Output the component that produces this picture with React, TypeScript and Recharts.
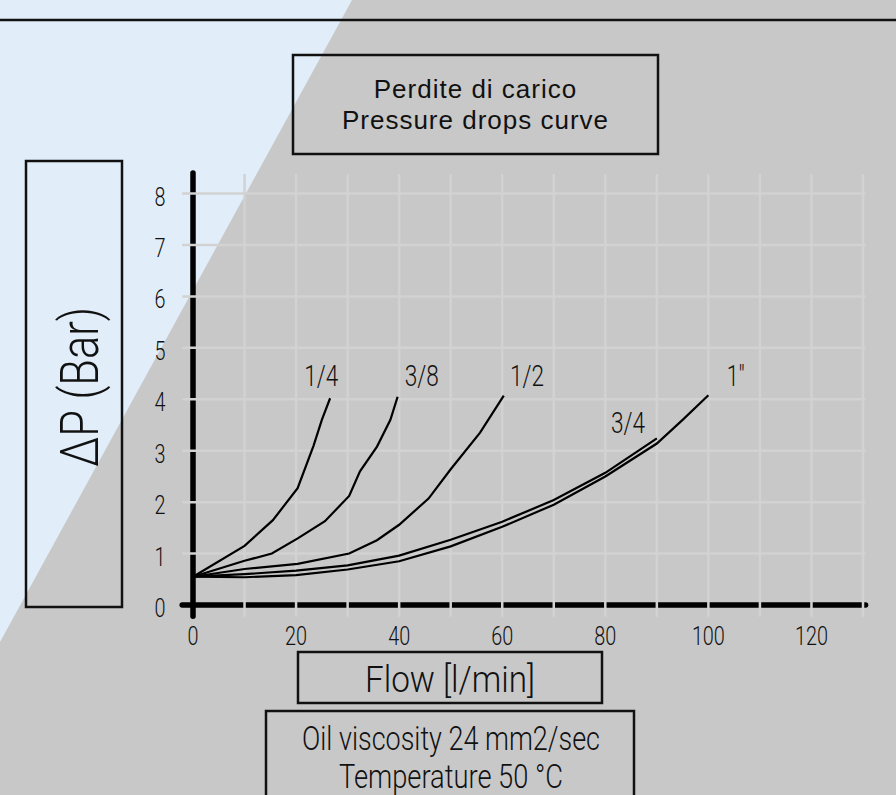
import React from 'react';
import { LineChart, Line, XAxis, YAxis, ReferenceLine, ReferenceDot } from 'recharts';

// flow [l/min] / pressure drop [bar]
const FLOW_1_4 = [0, 10, 15.5, 20.3, 23.4, 25, 26.6];
const DP_1_4 = [0.55, 1.15, 1.65, 2.27, 3.1, 3.6, 4.02];

const FLOW_3_8 = [0, 10, 15.3, 20.4, 25.6, 30.3, 32.4, 35.7, 38.3, 39.7];
const DP_3_8 = [0.55, 0.86, 1.0, 1.3, 1.63, 2.12, 2.6, 3.08, 3.6, 4.05];

const FLOW_1_2 = [0, 10, 20.3, 30.3, 35.7, 40, 45.7, 50, 55.7, 60.3];
const DP_1_2 = [0.55, 0.7, 0.8, 1.0, 1.26, 1.56, 2.07, 2.64, 3.35, 4.07];

const FLOW_3_4 = [0, 10, 20, 30, 40, 50, 60, 70, 80, 90];
const DP_3_4 = [0.55, 0.6, 0.67, 0.77, 0.96, 1.27, 1.62, 2.04, 2.57, 3.24];

const FLOW_1 = [0, 10, 20, 30, 40, 50, 60, 70, 80, 90, 95, 100];
const DP_1 = [0.55, 0.54, 0.58, 0.69, 0.85, 1.14, 1.52, 1.95, 2.5, 3.14, 3.6, 4.08];

const CURVE_NAMES = ['1/4', '3/8', '1/2', '3/4', '1"'];
// where each curve name sits (flow, bar)
const NAME_FLOW = [24.9, 44.4, 64.8, 84.4, 105.3];
const NAME_DP = [4.26, 4.26, 4.26, 3.35, 4.26];

const X_TICKS = [0, 20, 40, 60, 80, 100, 120];
const Y_TICKS = [0, 1, 2, 3, 4, 5, 6, 7, 8];
const X_GRID = [10, 20, 30, 40, 50, 60, 70, 80, 90, 100, 110, 120, 130];
const Y_GRID = [1, 2, 3, 4, 5, 6, 7, 8];

// the drawing font is a thin condensed one; squeeze a light sans to fit
const THIN = 'Roboto, "DejaVu Sans", sans-serif';
const GRID = '#d2d2d2';

const toPoints = (xs: number[], ys: number[]) => xs.map((x, i) => ({ x, y: ys[i] }));

const SERIES = [
  toPoints(FLOW_1_4, DP_1_4),
  toPoints(FLOW_3_8, DP_3_8),
  toPoints(FLOW_1_2, DP_1_2),
  toPoints(FLOW_3_4, DP_3_4),
  toPoints(FLOW_1, DP_1),
];

const NarrowText = ({ x, y, size, width, anchor = 'middle', transform, children }: any) => (
  <text
    x={x}
    y={y}
    transform={transform}
    textAnchor={anchor}
    fontFamily={THIN}
    fontWeight={300}
    fontSize={size}
    fill="#111"
    textLength={width}
    lengthAdjust="spacingAndGlyphs"
  >
    {children}
  </text>
);

const XTick = (props: any) => {
  const label = String(props.payload.value);
  return (
    <NarrowText x={props.x} y={props.y + 40} size={25} width={label.length * 11}>
      {label}
    </NarrowText>
  );
};

const YTick = (props: any) => {
  const label = String(props.payload.value);
  return (
    <NarrowText x={props.x - 33} y={props.y + 12} size={25} width={label.length * 11}>
      {label}
    </NarrowText>
  );
};

const App: React.FC = () => {
  return (
    <div style={{ position: 'absolute', left: 0, top: 0, width: 896, height: 795, overflow: 'hidden' }}>
      <svg width={896} height={795} style={{ position: 'absolute', left: 0, top: 0 }}>
        <rect x={0} y={0} width={896} height={795} fill="#c8c8c8" />
        <polygon points="0,0 352,0 0,642" fill="#e1eefa" />
        <line x1={0} y1={20} x2={896} y2={20} stroke="#111" strokeWidth={2.5} />
      </svg>

      <div style={{ position: 'absolute', left: 0, top: 0 }}>
        <LineChart width={896} height={795} margin={{ top: 173, right: 33, bottom: 160, left: 163 }}>
          <XAxis
            type="number"
            dataKey="x"
            domain={[0, 130]}
            ticks={X_TICKS}
            axisLine={false}
            tickLine={false}
            tickSize={0}
            tickMargin={0}
            height={30}
            tick={<XTick />}
          />
          <YAxis
            type="number"
            dataKey="y"
            domain={[0, 8.4]}
            ticks={Y_TICKS}
            axisLine={false}
            tickLine={false}
            tickSize={0}
            tickMargin={0}
            width={30}
            tick={<YTick />}
          />

          {/* heavy axes, the grid is drawn over them */}
          <ReferenceLine
            segment={[{ x: -2.1, y: 0 }, { x: 130.5, y: 0 }]}
            ifOverflow="visible"
            stroke="#000"
            strokeWidth={5.5}
            strokeLinecap="round"
          />
          <ReferenceLine
            segment={[{ x: 0, y: -0.22 }, { x: 0, y: 8.4 }]}
            ifOverflow="visible"
            stroke="#000"
            strokeWidth={5.5}
            strokeLinecap="round"
          />

          {Y_GRID.map((g) => (
            <ReferenceLine
              key={`h-${g}`}
              segment={[{ x: -2.1, y: g }, { x: 130.5, y: g }]}
              ifOverflow="visible"
              stroke={GRID}
              strokeWidth={2.5}
            />
          ))}
          {X_GRID.map((g) => (
            <ReferenceLine
              key={`v-${g}`}
              segment={[{ x: g, y: -0.23 }, { x: g, y: 8.38 }]}
              ifOverflow="visible"
              stroke={GRID}
              strokeWidth={2.5}
            />
          ))}

          {SERIES.map((pts, i) => (
            <Line
              key={CURVE_NAMES[i]}
              data={pts}
              dataKey="y"
              type="linear"
              stroke="#000"
              strokeWidth={2.2}
              dot={false}
              activeDot={false}
              isAnimationActive={false}
            />
          ))}

          {CURVE_NAMES.map((name, i) => (
            <ReferenceDot
              key={`n-${name}`}
              x={NAME_FLOW[i]}
              y={NAME_DP[i]}
              r={0}
              shape={(p: any) => (
                <NarrowText x={p.cx} y={p.cy} size={29} width={name.length === 2 ? 18 : 34}>
                  {name}
                </NarrowText>
              )}
            />
          ))}
        </LineChart>
      </div>

      <svg width={896} height={795} style={{ position: 'absolute', left: 0, top: 0, pointerEvents: 'none' }}>
        <g fill="none" stroke="#111" strokeWidth={2.5}>
          <rect x={293} y={55} width={365} height={99} />
          <rect x={26} y={161} width={96} height={446} />
          <rect x={298} y={652} width={304} height={51} />
          <rect x={266} y={711} width={368} height={100} />
        </g>
        <g fontFamily='"Liberation Sans", Arial, sans-serif' fontSize={26} letterSpacing={1} fill="#111" textAnchor="middle">
          <text x={475.5} y={98}>Perdite di carico</text>
          <text x={475.5} y={129}>Pressure drops curve</text>
        </g>
        <NarrowText x={98} y={387} size={54} width={160} transform="rotate(-90 98 387)">
          ΔP (Bar)
        </NarrowText>
        <NarrowText x={450} y={692} size={37} width={170}>
          Flow [l/min]
        </NarrowText>
        <NarrowText x={451} y={750} size={33} width={298}>
          Oil viscosity 24 mm2/sec
        </NarrowText>
        <NarrowText x={451} y={788} size={33} width={224}>
          Temperature 50 °C
        </NarrowText>
      </svg>
    </div>
  );
};

export default App;
